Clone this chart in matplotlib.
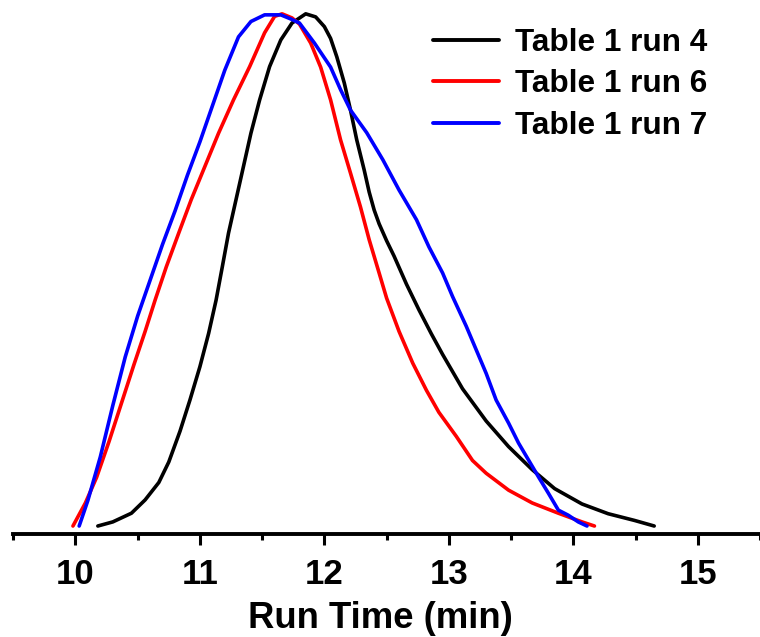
import matplotlib
matplotlib.use("Agg")
import matplotlib.pyplot as plt

plt.rcParams['font.family'] = ['Liberation Sans', 'DejaVu Sans']
plt.rcParams['font.weight'] = 'bold'

# GPC traces: run time (min) vs normalized detector response
run4_t = [10.18, 10.30, 10.45, 10.56, 10.67, 10.75, 10.84, 10.92, 11.00, 11.07,
          11.13, 11.18, 11.23, 11.29, 11.35, 11.41, 11.48, 11.56, 11.65, 11.74,
          11.85, 11.93, 12.00, 12.05, 12.10, 12.16, 12.21, 12.26, 12.32, 12.36,
          12.40, 12.44, 12.50, 12.56, 12.66, 12.76, 12.86, 12.95, 13.11, 13.30,
          13.48, 13.67, 13.85, 14.07, 14.28, 14.49, 14.65]
run4_v = [0.0, 0.008, 0.025, 0.051, 0.085, 0.125, 0.185, 0.246, 0.311, 0.376,
          0.441, 0.506, 0.572, 0.637, 0.702, 0.767, 0.832, 0.897, 0.949, 0.982,
          1.000, 0.994, 0.975, 0.952, 0.916, 0.865, 0.812, 0.754, 0.695, 0.652,
          0.617, 0.590, 0.557, 0.527, 0.472, 0.422, 0.375, 0.335, 0.268, 0.205,
          0.155, 0.110, 0.073, 0.043, 0.024, 0.011, 0.0]

run6_t = [9.98, 10.08, 10.17, 10.27, 10.37, 10.47, 10.56, 10.64, 10.73, 10.83,
          10.93, 11.04, 11.15, 11.27, 11.40, 11.52, 11.60, 11.66, 11.74, 11.80,
          11.89, 11.97, 12.05, 12.13, 12.21, 12.29, 12.36, 12.44, 12.50, 12.60,
          12.71, 12.82, 12.92, 13.06, 13.19, 13.30, 13.48, 13.67, 13.88, 14.07,
          14.17]
run6_v = [0.0, 0.045, 0.095, 0.165, 0.240, 0.315, 0.380, 0.441, 0.506, 0.572,
          0.637, 0.702, 0.767, 0.832, 0.897, 0.963, 0.995, 1.000, 0.992, 0.980,
          0.943, 0.896, 0.832, 0.754, 0.689, 0.623, 0.559, 0.494, 0.445, 0.380,
          0.318, 0.265, 0.222, 0.175, 0.128, 0.103, 0.070, 0.045, 0.025, 0.008,
          0.0]

run7_t = [10.03, 10.10, 10.20, 10.30, 10.40, 10.50, 10.60, 10.70, 10.80, 10.90,
          11.00, 11.10, 11.20, 11.31, 11.41, 11.52, 11.65, 11.73, 11.80, 11.92,
          12.05, 12.13, 12.21, 12.34, 12.47, 12.60, 12.74, 12.84, 12.95, 13.03,
          13.14, 13.22, 13.30, 13.38, 13.48, 13.56, 13.64, 13.72, 13.80, 13.88,
          13.96, 14.04, 14.11]
run7_v = [0.0, 0.050, 0.135, 0.235, 0.330, 0.410, 0.480, 0.550, 0.615, 0.685,
          0.750, 0.820, 0.890, 0.955, 0.985, 0.998, 0.998, 0.990, 0.982, 0.943,
          0.896, 0.852, 0.812, 0.768, 0.715, 0.656, 0.598, 0.545, 0.494, 0.448,
          0.390, 0.344, 0.298, 0.246, 0.201, 0.162, 0.129, 0.096, 0.064, 0.031,
          0.021, 0.008, 0.0]

series = [
    ("Table 1 run 4", run4_t, run4_v, "#000000"),
    ("Table 1 run 6", run6_t, run6_v, "#ff0000"),
    ("Table 1 run 7", run7_t, run7_v, "#0000ff"),
]

x_ticks = [10, 11, 12, 13, 14, 15]
x_label = "Run Time (min)"

W, H = 760, 637
fig = plt.figure(figsize=(W / 100, H / 100), dpi=100)
left_px, bottom_px = 13.2, 534
ax = fig.add_axes([left_px / W, (H - bottom_px) / H, (W - left_px) / W, bottom_px / H])

for name, t, v, c in series:
    ax.plot(t, v, color=c, lw=2.6, label=name,
            solid_joinstyle='round', solid_capstyle='round')

ax.set_xlim(9.5, 15.446)
ax.set_ylim(-0.0156, 1.027)

for s in ("left", "right", "top"):
    ax.spines[s].set_visible(False)
ax.spines["bottom"].set_linewidth(2.8)
ax.set_yticks([])
ax.set_xticks(x_ticks)
ax.set_xticks([t + 0.5 for t in [9] + x_ticks], minor=True)
ax.tick_params(axis='x', which='major', direction='out', length=8, width=2.2,
               labelsize=25, pad=9)
ax.tick_params(axis='x', which='minor', direction='out', length=4, width=2.2)
for lbl in ax.get_xticklabels():
    lbl.set_fontweight('bold')
ax.set_xlabel(x_label, fontsize=26.3, fontweight='bold', labelpad=9)
ax.xaxis.set_label_coords((380.5 - left_px) / (W - left_px), -0.125)

leg = ax.legend(loc='upper left', bbox_to_anchor=(433 / W, 1 - 28 / H),
                bbox_transform=fig.transFigure, frameon=False,
                prop={'size': 22.7, 'weight': 'bold'}, handlelength=2.1,
                handletextpad=0.5, labelspacing=0.36, borderpad=0, borderaxespad=0)
for line in leg.get_lines():
    line.set_linewidth(2.8)

fig.savefig("out.png", dpi=100)
